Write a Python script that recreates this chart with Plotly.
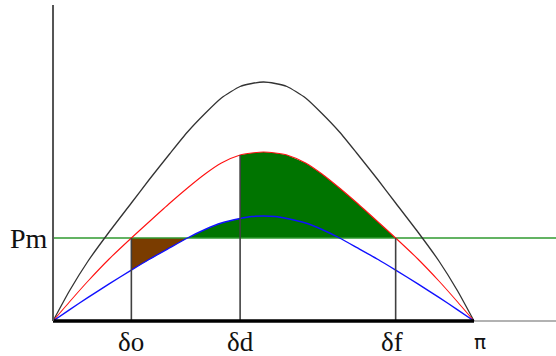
import plotly.graph_objects as go

# Power-angle curves (electrical power vs rotor angle, degrees)
delta = [0, 7, 15, 24, 33.5, 41, 50, 57.5, 65, 72, 80, 85, 90,
         95, 100, 108, 115, 122.5, 130, 139, 146.5, 156, 165, 173, 180]
p_prefault = [0, 0.30, 0.60, 0.89, 1.18, 1.41, 1.675, 1.89, 2.075, 2.23, 2.345, 2.375, 2.39,
              2.375, 2.345, 2.23, 2.075, 1.89, 1.675, 1.41, 1.18, 0.89, 0.60, 0.30, 0]
p_postfault = [0, 0.19, 0.40, 0.62, 0.83, 0.99, 1.18, 1.33, 1.47, 1.58, 1.66, 1.68, 1.69,
               1.68, 1.66, 1.58, 1.47, 1.33, 1.18, 0.99, 0.83, 0.62, 0.40, 0.19, 0]
p_fault = [0, 0.112, 0.236, 0.371, 0.509, 0.615, 0.733, 0.83, 0.915, 0.98, 1.025, 1.045, 1.05,
           1.045, 1.025, 0.98, 0.915, 0.83, 0.733, 0.615, 0.509, 0.371, 0.236, 0.112, 0]

Pm = 0.83
delta_o, delta_d, delta_f = 33.5, 80, 146.5
delta_x = 57.5  # fault curve meets Pm
tick_names = ["δo", "δd", "δf", "π"]
tick_pos = [delta_o, delta_d, delta_f, 180]

i_o = delta.index(delta_o)
i_x = delta.index(delta_x)
i_d = delta.index(delta_d)
i_f = delta.index(delta_f)

X_MAX = 215.06
X_MIN = -2.14

fig = go.Figure()

# accelerating area (brown): between Pm and fault curve
acc_x = [delta_o, delta_x] + [delta[i] for i in range(i_x, i_o - 1, -1)]
acc_y = [Pm, Pm] + [p_fault[i] for i in range(i_x, i_o - 1, -1)]
fig.add_trace(go.Scatter(x=acc_x, y=acc_y, fill="toself", mode="lines",
                         line=dict(width=0), fillcolor="#7a3c00", hoverinfo="skip"))

# decelerating area (green)
dec_x = [delta[i] for i in range(i_x, i_d + 1)] + [delta[i] for i in range(i_d, i_f + 1)] + [delta_x]
dec_y = [p_fault[i] for i in range(i_x, i_d + 1)] + [p_postfault[i] for i in range(i_d, i_f + 1)] + [Pm]
fig.add_trace(go.Scatter(x=dec_x, y=dec_y, fill="toself", mode="lines",
                         line=dict(width=0), fillcolor="#007400", hoverinfo="skip"))

# Pm line
fig.add_trace(go.Scatter(x=[0, X_MAX], y=[Pm, Pm], mode="lines",
                         line=dict(color="#2f9a2f", width=1.5)))

# curves
curve_kw = dict(mode="lines")
fig.add_trace(go.Scatter(x=delta, y=p_prefault, line=dict(color="#333333", width=1.3, shape="spline", smoothing=0.6), **curve_kw))
fig.add_trace(go.Scatter(x=delta, y=p_postfault, line=dict(color="#ff1010", width=1.1, shape="spline", smoothing=0.6), **curve_kw))
fig.add_trace(go.Scatter(x=delta, y=p_fault, line=dict(color="#1010ff", width=1.4, shape="spline", smoothing=0.6), **curve_kw))

# vertical markers
vline_style = dict(color="#404040", width=1.6)
for xv, ytop in [(delta_o, Pm), (delta_d, p_postfault[i_d]), (delta_f, Pm)]:
    fig.add_trace(go.Scatter(x=[xv, xv], y=[0, ytop], mode="lines", line=vline_style))

# axes
fig.add_trace(go.Scatter(x=[180, X_MAX], y=[0, 0], mode="lines", line=dict(color="#666666", width=1.2)))
fig.add_trace(go.Scatter(x=[0, 180], y=[0, 0], mode="lines", line=dict(color="#000000", width=3.5)))
fig.add_trace(go.Scatter(x=[0, 0], y=[0, 3.16], mode="lines", line=dict(color="#555555", width=2)))

annotations = []
label_shift = {"δo": 0, "δd": 0, "δf": -4, "π": 6}
for name, pos in zip(tick_names, tick_pos):
    if name == "π":
        font = dict(family="DejaVu Sans", size=20, color="#111")
    else:
        font = dict(family="Liberation Serif", size=27, color="#111")
    annotations.append(dict(x=pos, y=-0.052, xref="x", yref="paper", text=name, showarrow=False,
                            font=font, xanchor="center", yanchor="middle", xshift=label_shift[name]))
annotations.append(dict(x=-1.3, y=Pm, xref="x", yref="y", text="Pm", showarrow=False,
                        font=dict(family="Liberation Serif", size=28, color="#111"),
                        xanchor="right", yanchor="middle"))

fig.update_layout(
    width=556, height=356,
    margin=dict(l=48, r=0, t=0, b=31),
    paper_bgcolor="white", plot_bgcolor="white",
    showlegend=False,
    xaxis=dict(range=[X_MIN, X_MAX], visible=False, fixedrange=True),
    yaxis=dict(range=[-0.04, 3.21], visible=False, fixedrange=True),
    annotations=annotations,
)

fig.write_html("out.html")
